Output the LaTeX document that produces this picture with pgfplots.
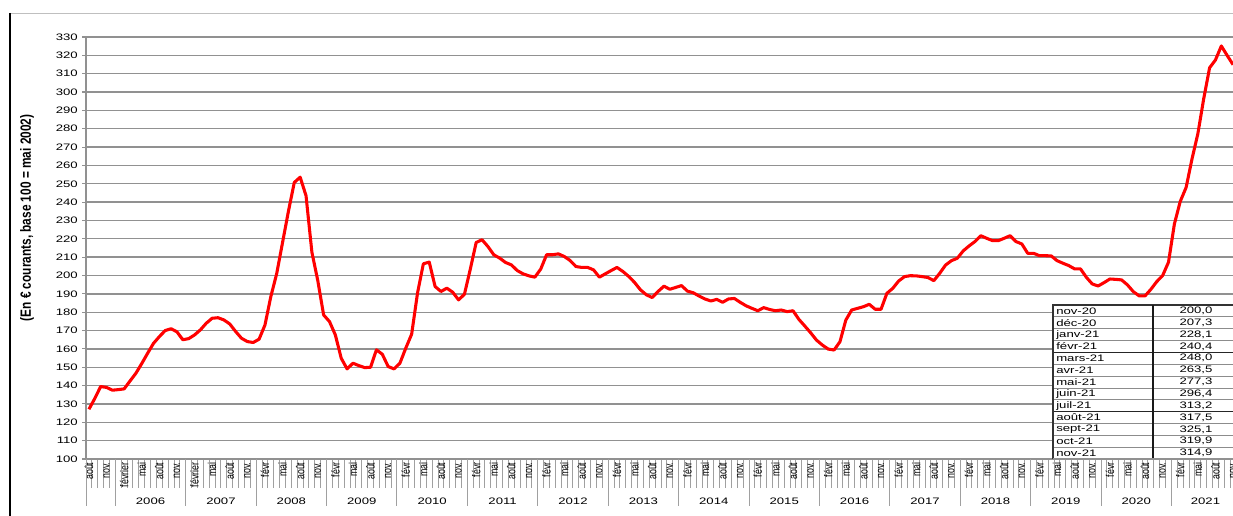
\documentclass[border=0pt]{standalone}
\usepackage{pgfplots}
\pgfplotsset{compat=1.18}
\usepackage{fontspec}
\setmainfont{Liberation Sans}
\newfontfamily\widefont[FakeStretch=1.4]{Liberation Sans}
\definecolor{gridgray}{RGB}{145,145,145}
\definecolor{sepgray}{RGB}{160,160,160}
\newcommand{\tfont}{\widefont\fontsize{7.05}{8}\selectfont}
\newcommand{\mfont}{\fontsize{6.6}{7}\selectfont}
\begin{document}
\begin{tikzpicture}
\path[use as bounding box] (0,0) rectangle (924.75pt,387pt);
\begin{scope}[x=0.75pt,y=0.75pt]
\draw[black!25, line width=0.6pt] (10,503) -- (1233,503);
\draw[black, line width=1.9pt] (10,503) -- (10,0);
\node[rotate=90, yscale=1.25, font=\bfseries\fontsize{8.9}{10}\selectfont] at (27,298) {(En € courants, base 100 = mai 2002)};
\end{scope}
\begin{axis}[
  at={(64.5pt,42.75pt)}, anchor=south west,
  width=862.5pt, height=316.5pt, scale only axis,
  xmin=-0.5, xmax=195.5, ymin=100, ymax=330,
  clip=false,
  axis x line*=bottom, axis y line*=left,
  axis line style={-, draw=gridgray, line width=0.9pt},
  ytick={100,110,...,330},
  ymajorgrids, grid style={gridgray, line width=1pt},
  tick align=outside,
  major tick length=3pt,
  minor tick length=21.75pt,
  major y tick style={draw=gridgray, line width=0.8pt},
  major x tick style={draw=none},
  minor x tick style={draw=sepgray, line width=0.75pt},
  /pgf/number format/assume math mode=true,
  yticklabel style={font=\tfont, inner sep=0pt, xshift=-3pt},
  xtick={0,3,...,195},
  minor xtick={-0.5,0.5,...,195.5},
  xticklabels={août,nov.,février,mai,août,nov.,février,mai,août,nov.,
    févr,mai,août,nov.,févr,mai,août,nov.,févr,mai,août,nov.,févr,mai,août,nov.,
    févr,mai,août,nov.,févr,mai,août,nov.,févr,mai,août,nov.,févr,mai,août,nov.,
    févr,mai,août,nov.,févr,mai,août,nov.,févr,mai,août,nov.,févr,mai,août,nov.,
    févr,mai,août,nov.,févr,mai,août,nov.},
  xticklabel style={rotate=90, anchor=east, font=\mfont, inner sep=0.5pt, yscale=1.3},
  xticklabel shift=-1pt,
]
\addplot[red, line width=2.3pt, line join=round] table[x=i, y=v] {
i v
0 127.1
1 133.0
2 139.5
3 139.0
4 137.5
5 137.8
6 138.2
7 142.5
8 146.7
9 152.0
10 157.6
11 163.0
12 166.7
13 170.0
14 171.0
15 169.3
16 165.0
17 165.6
18 167.6
19 170.4
20 174.0
21 176.7
22 177.0
23 175.8
24 173.6
25 169.5
26 165.8
27 164.0
28 163.5
29 165.3
30 173.0
31 188.5
32 201.0
33 218.0
34 235.0
35 250.7
36 253.6
37 243.5
38 212.7
39 197.3
40 178.5
41 174.9
42 167.6
43 154.9
44 149.1
45 152.2
46 150.9
47 149.8
48 150.0
49 159.5
50 157.1
51 150.4
52 149.1
53 152.2
54 160.4
55 168.0
56 190.4
57 206.4
58 207.3
59 194.0
60 191.3
61 193.1
62 190.9
63 186.7
64 189.8
65 203.5
66 218.0
67 219.5
68 215.8
69 211.3
70 209.5
71 207.1
72 205.8
73 202.7
74 200.9
75 199.8
76 199.1
77 203.5
78 211.3
79 211.3
80 211.8
81 210.4
82 208.2
83 204.9
84 204.4
85 204.4
86 203.1
87 199.1
88 200.9
89 202.7
90 204.4
91 202.2
92 199.5
93 196.2
94 192.2
95 189.5
96 188.0
97 191.3
98 194.2
99 192.5
100 193.5
101 194.5
102 191.5
103 190.6
104 188.8
105 187.2
106 186.1
107 187.0
108 185.4
109 187.2
110 187.5
111 185.4
112 183.5
113 182.1
114 180.8
115 182.5
116 181.5
117 180.8
118 181.2
119 180.3
120 180.8
121 176.1
122 172.5
123 168.8
124 164.8
125 162.1
126 159.9
127 159.4
128 163.9
129 175.7
130 181.2
131 182.1
132 183.0
133 184.3
134 181.6
135 181.6
136 190.3
137 193.0
138 197.0
139 199.4
140 199.9
141 199.8
142 199.4
143 198.9
144 197.2
145 201.2
146 205.7
147 208.1
148 209.4
149 213.4
150 216.1
151 218.5
152 221.7
153 220.3
154 219.0
155 219.0
156 220.3
157 221.7
158 218.5
159 217.2
160 212.1
161 212.1
162 210.8
163 210.8
164 210.7
165 208.1
166 206.7
167 205.4
168 203.6
169 203.6
170 199.0
171 195.4
172 194.3
173 196.1
174 198.1
175 197.9
176 197.6
177 194.9
178 191.2
179 188.9
180 188.9
181 192.5
182 196.7
183 200.0
184 207.3
185 228.1
186 240.4
187 248.0
188 263.5
189 277.3
190 296.4
191 313.2
192 317.5
193 325.1
194 319.9
195 314.9
};
\pgfplotsinvokeforeach{-0.5,4.5,16.5,28.5,40.5,52.5,64.5,76.5,88.5,100.5,112.5,124.5,136.5,148.5,160.5,172.5,184.5}{
  \draw[sepgray, line width=0.75pt] (axis cs:#1,100) -- ++(0pt,-35.25pt);
}
\node[font=\tfont, yshift=-31.9pt] at (axis cs:10.5,100) {2006};
\node[font=\tfont, yshift=-31.9pt] at (axis cs:22.5,100) {2007};
\node[font=\tfont, yshift=-31.9pt] at (axis cs:34.5,100) {2008};
\node[font=\tfont, yshift=-31.9pt] at (axis cs:46.5,100) {2009};
\node[font=\tfont, yshift=-31.9pt] at (axis cs:58.5,100) {2010};
\node[font=\tfont, yshift=-31.9pt] at (axis cs:70.5,100) {2011};
\node[font=\tfont, yshift=-31.9pt] at (axis cs:82.5,100) {2012};
\node[font=\tfont, yshift=-31.9pt] at (axis cs:94.5,100) {2013};
\node[font=\tfont, yshift=-31.9pt] at (axis cs:106.5,100) {2014};
\node[font=\tfont, yshift=-31.9pt] at (axis cs:118.5,100) {2015};
\node[font=\tfont, yshift=-31.9pt] at (axis cs:130.5,100) {2016};
\node[font=\tfont, yshift=-31.9pt] at (axis cs:142.5,100) {2017};
\node[font=\tfont, yshift=-31.9pt] at (axis cs:154.5,100) {2018};
\node[font=\tfont, yshift=-31.9pt] at (axis cs:166.5,100) {2019};
\node[font=\tfont, yshift=-31.9pt] at (axis cs:178.5,100) {2020};
\node[font=\tfont, yshift=-31.9pt] at (axis cs:190.3,100) {2021};
\end{axis}
\begin{scope}[x=0.75pt,y=0.75pt]
\fill[white] (1053,57) rectangle (1240,211);
\foreach \r in {1,2,3,5,6,7,8,10,11,12} {
  \draw[black!45, line width=0.6pt] (1053,{211-\r*11.846}) -- (1240,{211-\r*11.846});
}
\foreach \r in {4,9} {
  \draw[black!85, line width=0.8pt] (1053,{211-\r*11.846}) -- (1240,{211-\r*11.846});
}
\draw[black!80, line width=0.8pt] (1053,57) -- (1053,211) -- (1240,211);
\draw[black!90, line width=0.8pt] (1153,57) -- (1153,211);
\draw[gridgray, line width=0.9pt] (1053,57) -- (1240,57);
\foreach \lab/\val [count=\r] in {nov-20/200{,}0, déc-20/207{,}3, janv-21/228{,}1, févr-21/240{,}4, mars-21/248{,}0, avr-21/263{,}5, mai-21/277{,}3, juin-21/296{,}4, juil-21/313{,}2, août-21/317{,}5, sept-21/325{,}1, oct-21/319{,}9, nov-21/314{,}9} {
  \node[anchor=west, font=\tfont, inner sep=0pt] at (1056,{211-(\r-0.5)*11.846}) {\lab};
  \node[font=\tfont, inner sep=0pt] at (1196,{211-(\r-0.5)*11.846}) {\val};
}
\end{scope}
\end{tikzpicture}
\end{document}
